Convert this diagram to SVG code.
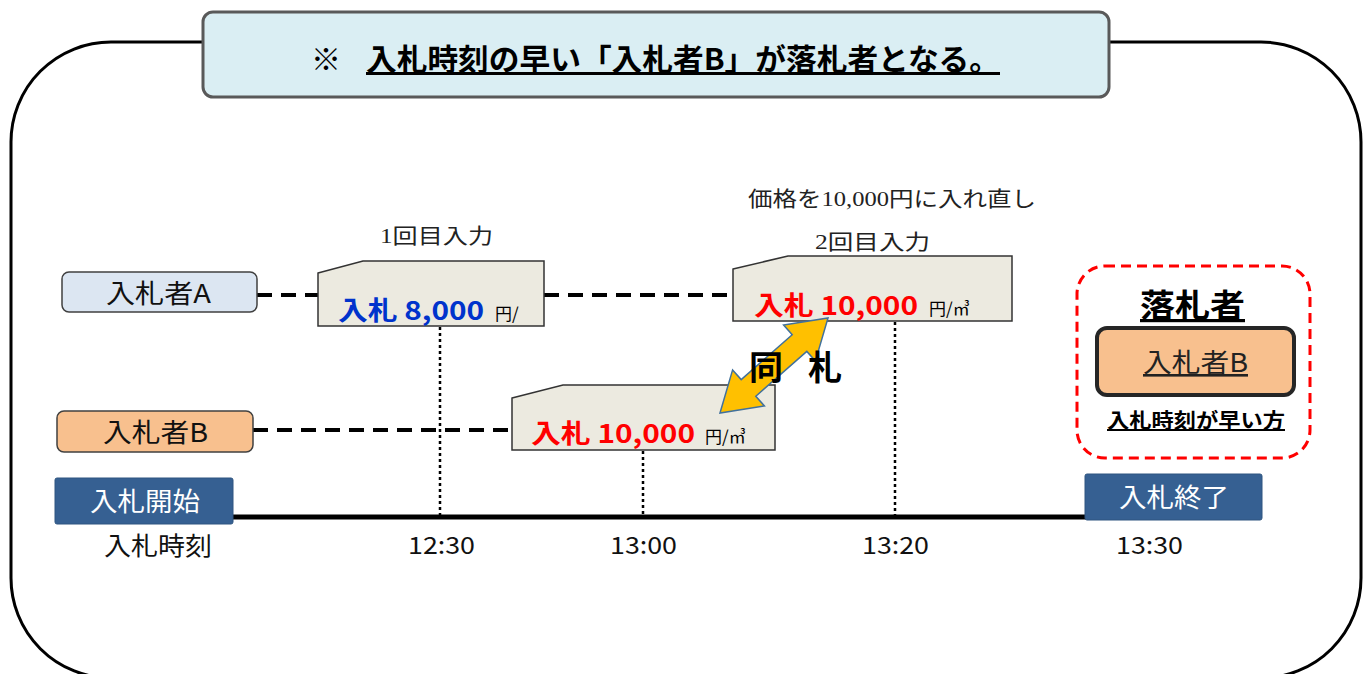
<svg xmlns="http://www.w3.org/2000/svg" width="1369" height="674" viewBox="0 0 1369 674">
<style>
.jp{font-family:"Noto Sans CJK JP","Liberation Sans",sans-serif}
.serif{font-family:"Liberation Serif","Noto Sans CJK JP",serif}
.card{fill:#ECEAE0;stroke:#333;stroke-width:1.5}
.dash{stroke:#000;stroke-width:4;stroke-dasharray:15 9;fill:none}
.dot{stroke:#000;stroke-width:2.5;stroke-dasharray:3 3;fill:none}
.tl{fill:#366092;stroke:#2F5580;stroke-width:1}
.red{fill:#FF0000;font-weight:bold}
.blue{fill:#0033CC;font-weight:bold}
</style>
<rect width="1369" height="674" fill="#fff"/>
<rect x="11" y="42" width="1350" height="636" rx="100" fill="none" stroke="#000" stroke-width="3"/>

<g id="title">
<rect x="203" y="12" width="906" height="85" rx="10" fill="#DAEEF3" stroke="#595959" stroke-width="3"/>
<text x="311" y="70" class="jp" font-size="30" font-weight="bold" fill="#000">※</text>
<text x="366" y="70" class="jp" font-size="30" font-weight="bold" fill="#000" text-decoration="underline" textLength="634" lengthAdjust="spacingAndGlyphs">入札時刻の早い「入札者B」が落札者となる。</text>
</g>

<g id="connectors">
<line x1="257" y1="295" x2="318" y2="295" class="dash"/>
<line x1="544" y1="295" x2="734" y2="295" class="dash"/>
<line x1="253" y1="430" x2="512" y2="430" class="dash"/>
<line x1="440" y1="327" x2="440" y2="515" class="dot"/>
<line x1="643" y1="451" x2="643" y2="515" class="dot"/>
<line x1="895" y1="322" x2="895" y2="515" class="dot"/>
<line x1="233" y1="517" x2="1086" y2="517" stroke="#000" stroke-width="5"/>
</g>

<g id="bidderA">
<rect x="62" y="272" width="195" height="40" rx="7" fill="#DCE6F2" stroke="#404040" stroke-width="1.5"/>
<text x="106" y="303" class="jp" font-size="26" fill="#111" textLength="105" lengthAdjust="spacingAndGlyphs">入札者A</text>
</g>
<g id="bidderB">
<rect x="57" y="411" width="196" height="41" rx="7" fill="#F8C08E" stroke="#404040" stroke-width="1.5"/>
<text x="103" y="442" class="jp" font-size="26" fill="#111" textLength="105" lengthAdjust="spacingAndGlyphs">入札者B</text>
</g>

<g id="bidA1">
<text x="380" y="243" class="serif" font-size="21" fill="#222" textLength="113" lengthAdjust="spacingAndGlyphs">1回目入力</text>
<polygon points="318,273 363,261 544,261 544,326 318,326" class="card"/>
<text x="338" y="320" class="jp blue" font-size="26" textLength="146" lengthAdjust="spacingAndGlyphs">入札 8,000</text>
<text x="495" y="320" class="jp" font-size="17" fill="#000">円/</text>
</g>

<g id="bidA2">
<text x="748" y="206" class="serif" font-size="21" fill="#222" textLength="288" lengthAdjust="spacingAndGlyphs">価格を10,000円に入れ直し</text>
<text x="815" y="249" class="serif" font-size="21" fill="#222" textLength="115" lengthAdjust="spacingAndGlyphs">2回目入力</text>
<polygon points="733,269 788,256 1012,256 1012,321 733,321" class="card"/>
<text x="754" y="315" class="jp red" font-size="26" textLength="164" lengthAdjust="spacingAndGlyphs">入札 10,000</text>
<text x="929" y="315" class="jp" font-size="17" fill="#000">円/㎥</text>
</g>

<g id="bidB">
<polygon points="512,398 563,385 775,385 775,450 512,450" class="card"/>
<text x="531" y="443" class="jp red" font-size="26" textLength="164" lengthAdjust="spacingAndGlyphs">入札 10,000</text>
<text x="705" y="443" class="jp" font-size="17" fill="#000">円/㎥</text>
</g>

<g id="sameBid">
<polygon points="720,413 732.6,369.9 741.2,379.6 792.2,334.8 783.6,325.1 828,318 815.4,361.1 806.8,351.4 755.8,396.2 764.4,405.9" fill="#FFC000" stroke="#41719C" stroke-width="1.5" stroke-linejoin="miter"/>
<text x="749" y="380" class="jp" font-size="34" font-weight="bold" fill="#000">同</text>
<text x="808" y="380" class="jp" font-size="34" font-weight="bold" fill="#000">札</text>
</g>

<g id="start">
<rect x="55" y="478" width="178" height="46" rx="2" class="tl"/>
<text x="90" y="511" class="jp" font-size="26" fill="#fff" textLength="110" lengthAdjust="spacingAndGlyphs">入札開始</text>
<text x="104" y="555" class="jp" font-size="25" fill="#111" textLength="108" lengthAdjust="spacingAndGlyphs">入札時刻</text>
</g>
<g id="end">
<rect x="1085" y="474" width="177" height="46" rx="2" class="tl"/>
<text x="1119" y="507" class="jp" font-size="26" fill="#fff" textLength="110" lengthAdjust="spacingAndGlyphs">入札終了</text>
<text x="1116" y="554" class="jp" font-size="24" fill="#111" textLength="67" lengthAdjust="spacingAndGlyphs">13:30</text>
</g>
<g id="times">
<text x="408" y="554" class="jp" font-size="24" fill="#111" textLength="67" lengthAdjust="spacingAndGlyphs">12:30</text>
<text x="610" y="554" class="jp" font-size="24" fill="#111" textLength="67" lengthAdjust="spacingAndGlyphs">13:00</text>
<text x="862" y="554" class="jp" font-size="24" fill="#111" textLength="67" lengthAdjust="spacingAndGlyphs">13:20</text>
</g>

<g id="winner">
<rect x="1077" y="266" width="233" height="192" rx="28" fill="none" stroke="#FF0000" stroke-width="3" stroke-dasharray="10 6"/>
<text x="1140" y="317" class="jp" font-size="32" font-weight="bold" fill="#000" text-decoration="underline" textLength="105" lengthAdjust="spacingAndGlyphs">落札者</text>
<rect x="1097" y="328" width="197" height="67" rx="10" fill="#F8C08E" stroke="#262626" stroke-width="4"/>
<text x="1143" y="372" class="jp" font-size="26" fill="#222" text-decoration="underline" textLength="105" lengthAdjust="spacingAndGlyphs">入札者B</text>
<text x="1107" y="428" class="jp" font-size="20" font-weight="bold" fill="#000" text-decoration="underline" textLength="178" lengthAdjust="spacingAndGlyphs">入札時刻が早い方</text>
</g>
</svg>
